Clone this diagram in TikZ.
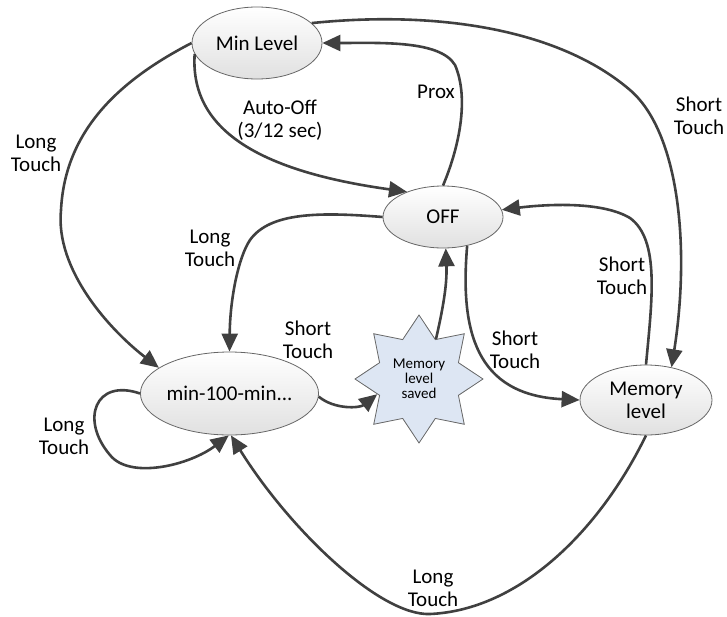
\documentclass[tikz,border=0pt]{standalone}
\usepackage{fontspec}
\setmainfont{Carlito}
\usetikzlibrary{shapes.geometric,arrows.meta}
\definecolor{edgecol}{RGB}{64,64,64}
\definecolor{starfill}{RGB}{221,230,243}
\begin{document}
\begin{tikzpicture}[x=1pt,y=-1pt,
  state/.style={ellipse,draw=black!60,line width=0.8pt,top color=white,bottom color=black!12,inner sep=0pt,font=\fontsize{21}{23}\selectfont,align=center},
  arr/.style={draw=edgecol,line width=2.6pt,-{Triangle[length=18pt,width=16pt]}},
  lbl/.style={font=\fontsize{21}{23}\selectfont,align=center,inner sep=0pt}]
\useasboundingbox (0,0) rectangle (727,616);
\node[state,minimum width=130pt,minimum height=72pt] (minl) at (257,43) {Min Level};
\node[state,minimum width=120pt,minimum height=62pt] (off) at (443,217) {OFF};
\node[state,minimum width=132pt,minimum height=70pt] (mem) at (646,400) {Memory\\level};
\node[state,minimum width=172pt,minimum height=83pt] (mmm) at (229.5,393.5) {min-100-min...};
\node[star,star points=8,star point ratio=1.5,minimum size=128pt,draw=black!60,fill=starfill,line width=0.8pt,inner sep=0pt,font=\fontsize{15}{15}\selectfont,align=center] (star) at (419,379) {Memory\\level\\saved};

\draw[arr] (minl.20) .. controls (440,10) and (560,30) .. (630,90) .. controls (680,133) and (690,250) .. (mem.52);
\draw[arr] (off.90) .. controls (458,150) and (470,100) .. (455,65) .. controls (440,40) and (380,43) .. (minl.0);
\draw[arr] (minl.190) .. controls (190,125) and (250,170) .. (off.145);
\draw[arr] (minl.180) .. controls (120,80) and (65,130) .. (61,210) .. controls (55,270) and (110,330) .. (mmm.160);
\draw[arr] (off.180) .. controls (320,212) and (270,212) .. (250,240) .. controls (238,258) and (230,300) .. (mmm.90);
\draw[arr] (mmm.180) .. controls (95,378) and (80,420) .. (110,455) .. controls (130,480) and (190,465) .. (mmm.-91);
\draw[arr] (mmm.-2) .. controls (335,410) and (360,408) .. (star.200);
\draw[arr] (star.67) .. controls (445,300) and (447,280) .. (off.-85);
\draw[arr] (off.-50) .. controls (460,330) and (475,395) .. (mem.180);
\draw[arr] (mem.90) .. controls (652,300) and (660,240) .. (630,218) .. controls (600,200) and (540,205) .. (off.7);
\draw[arr] (mem.-90) .. controls (600,530) and (520,610) .. (430,614) .. controls (380,616) and (290,530) .. (mmm.-88);

\node[lbl] (l1) at (699,116) {Short\\Touch};
\node[lbl] (l2) at (436,92) {Prox};
\node[lbl] (l3) at (280,120) {Auto-Off\\(3/12 sec)};
\node[lbl] (l4) at (36,153) {Long\\Touch};
\node[lbl] (l5) at (210,248) {Long\\Touch};
\node[lbl] (l6) at (64,436) {Long\\Touch};
\node[lbl] (l7) at (308,340) {Short\\Touch};
\node[lbl] (l8) at (515,350) {Short\\Touch};
\node[lbl] (l9) at (622,276) {Short\\Touch};
\node[lbl] (l10) at (433,588) {Long\\Touch};
\end{tikzpicture}
\end{document}
